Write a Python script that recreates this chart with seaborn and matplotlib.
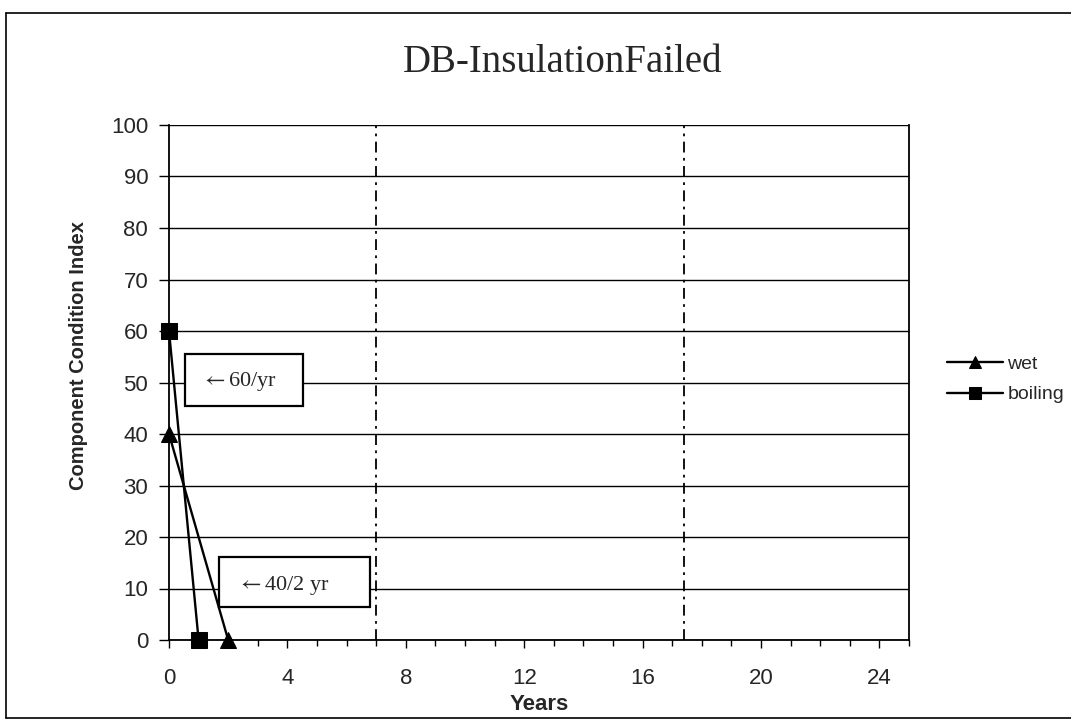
import pandas as pd
import numpy as np
import matplotlib
matplotlib.use('Agg')
import matplotlib.pyplot as plt
from matplotlib.patches import Rectangle
from matplotlib.lines import Line2D
from matplotlib.ticker import MultipleLocator
import seaborn as sns

# data
years_wet = [0, 2]
cci_wet = [40, 0]
years_boiling = [0, 1]
cci_boiling = [60, 0]
series_names = ['wet', 'boiling']
marker_styles = {'wet': '^', 'boiling': 's'}

# dash-dot reference lines (years)
ref_years = [7, 17.4]

# annotation boxes: label, text position, box (x0, y0, x1, y1) in data units
notes = [
    (r'$\leftarrow$60/yr', (2.35, 50.2), (0.54, 45.4, 4.54, 55.5)),
    (r'$\leftarrow$40/2 yr', (3.85, 10.6), (1.7, 6.4, 6.8, 16.1)),
]

df = pd.concat([
    pd.DataFrame({'Years': years_wet, 'CCI': cci_wet, 'series': 'wet'}),
    pd.DataFrame({'Years': years_boiling, 'CCI': cci_boiling, 'series': 'boiling'}),
])

sns.set_style('white')
plt.rcParams['font.family'] = ['Liberation Sans', 'DejaVu Sans']
plt.rcParams['mathtext.fontset'] = 'stix'

fig = plt.figure(figsize=(10.71, 7.21), dpi=100)
W, H = 1071, 721
ax = fig.add_axes([169 / W, 1 - 640 / H, 740 / W, 515 / H])

# horizontal grid
ax.set_ylim(0, 100)
ax.set_xlim(0, 25)
ax.yaxis.set_major_locator(MultipleLocator(10))
ax.xaxis.set_major_locator(MultipleLocator(4))
ax.xaxis.set_minor_locator(MultipleLocator(1))
ax.grid(axis='y', color='black', linewidth=1.0)
ax.set_axisbelow(True)

for x in ref_years:
    ax.axvline(x, color='black', linewidth=1.3, linestyle=(0, (6, 3, 1.5, 3)), zorder=1)

sns.lineplot(data=df, x='Years', y='CCI', hue='series', style='series',
             hue_order=series_names, style_order=series_names,
             palette=['black', 'black'], markers=marker_styles, dashes=False,
             markersize=11, markeredgecolor='black', linewidth=1.7,
             ax=ax, legend=True, zorder=6)
for ln in ax.lines:
    ln.set_clip_on(False)

for label, (tx, ty), (x0, y0, x1, y1) in notes:
    ax.add_patch(Rectangle((x0, y0), x1 - x0, y1 - y0, facecolor='white',
                           edgecolor='black', linewidth=1.6, zorder=4))
    ax.text(tx, ty, label, ha='center', va='center', fontsize=16,
            family=['Liberation Serif', 'DejaVu Serif'], zorder=5)

# spines and ticks
for side in ['left', 'bottom', 'right']:
    ax.spines[side].set_visible(True)
    ax.spines[side].set_color('black')
    ax.spines[side].set_linewidth(1.3)
ax.spines['top'].set_visible(False)
ax.tick_params(axis='y', which='major', direction='out', length=7, width=1,
               color='black', pad=8, labelsize=16, left=True)
ax.tick_params(axis='x', which='major', direction='out', length=6, width=1,
               color='black', pad=14, labelsize=16, bottom=True)
ax.tick_params(axis='x', which='minor', direction='out', length=4, width=1,
               color='black', bottom=True)

ax.set_xlabel('Years', fontsize=16, fontweight='bold', labelpad=4)
ax.set_ylabel('Component Condition Index', fontsize=14.5, fontweight='bold')
ax.yaxis.set_label_coords(-0.1095, 0.553)

# legend outside on the right
handles, labels = ax.get_legend_handles_labels()
leg = ax.legend(handles, labels, loc='center left',
                bbox_to_anchor=(947 / W, 1 - 379.5 / H), bbox_transform=fig.transFigure,
                frameon=False, fontsize=14, handlelength=2.9, handletextpad=0.2,
                labelspacing=0.65, borderpad=0, borderaxespad=0)
for h in leg.legend_handles:
    h.set_markersize(9)

fig.text(563 / W, 1 - 63 / H, 'DB-InsulationFailed', ha='center', va='center',
         fontsize=28, family=['Liberation Serif', 'DejaVu Serif'])

# page frame of the scanned figure
fig.add_artist(Line2D([6 / W, 6 / W], [1 - 13 / H, 1 - 718 / H], color='black', linewidth=1.2))
fig.add_artist(Line2D([6 / W, 1.0], [1 - 13 / H, 1 - 13 / H], color='black', linewidth=1.2))
fig.add_artist(Line2D([6 / W, 1.0], [1 - 718 / H, 1 - 718 / H], color='black', linewidth=1.2))

plt.savefig('out.png', dpi=100)
